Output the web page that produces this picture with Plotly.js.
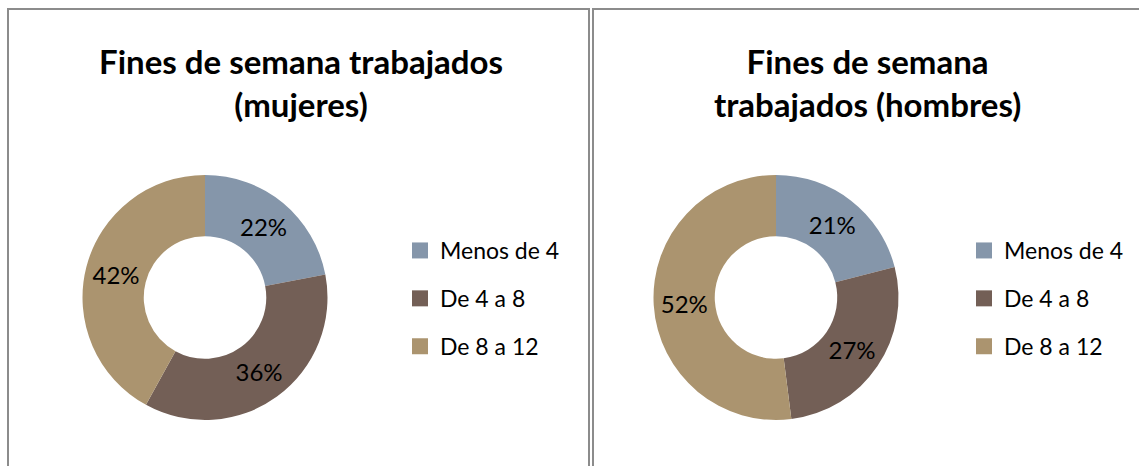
<!DOCTYPE html>
<html>
<head>
<meta charset="utf-8">
<script src="https://cdn.plot.ly/plotly-3.0.1.min.js"></script>
<style>
html,body{margin:0;padding:0;background:#fff;}
#chart{width:1139px;height:466px;}
</style>
</head>
<body>
<div id="chart"></div>
<script>
const categories = ["Menos de 4", "De 4 a 8", "De 8 a 12"];
const mujeresValues = [22, 36, 42];
const hombresValues = [21, 27, 52];
const sliceColors = ["#8596AA", "#735F56", "#AB946F"];
const titleMujeres = "Fines de semana trabajados<br>(mujeres)";
const titleHombres = "Fines de semana<br>trabajados (hombres)";

const W = 1139, H = 466;
const px = v => v / W;
const py = v => 1 - v / H;
const FONT = "Lato, 'Open Sans', sans-serif";

function pieTrace(values, x0, x1) {
  return {
    type: "pie",
    labels: categories,
    values: values,
    hole: 0.5,
    sort: false,
    direction: "clockwise",
    rotation: 0,
    marker: {colors: sliceColors, line: {width: 0}},
    textinfo: "percent",
    textposition: "inside",
    insidetextorientation: "horizontal",
    textfont: {family: FONT, size: 24, color: "#000"},
    showlegend: false,
    hoverinfo: "none",
    domain: {x: [px(x0), px(x1)], y: [py(420), py(175)]}
  };
}

const traces = [
  pieTrace(mujeresValues, 82, 328),
  pieTrace(hombresValues, 653, 899)
];

// legend entries (one per category, per panel)
["legend", "legend2"].forEach(function (lg) {
  categories.forEach(function (c, i) {
    traces.push({
      type: "scatter",
      x: [null], y: [null],
      mode: "markers",
      name: c,
      legend: lg,
      legendgroup: lg + i,
      marker: {symbol: "square", size: 16, color: sliceColors[i], line: {width: 0}},
      hoverinfo: "none",
      showlegend: true
    });
  });
});

const legendBase = {
  xanchor: "left", yanchor: "top",
  font: {family: FONT, size: 23, color: "#000"},
  tracegroupgap: 15,
  traceorder: "grouped",
  bgcolor: "rgba(0,0,0,0)",
  borderwidth: 0
};

const lineStyle = {color: "#8c8c8c", width: 2};

const layout = {
  width: W, height: H,
  margin: {l: 0, r: 0, t: 0, b: 0},
  paper_bgcolor: "#fff",
  plot_bgcolor: "#fff",
  xaxis: {visible: false},
  yaxis: {visible: false},
  legend: Object.assign({x: px(400), y: py(229)}, legendBase),
  legend2: Object.assign({x: px(964), y: py(229)}, legendBase),
  annotations: [
    {text: "<b>" + titleMujeres + "</b>", xref: "paper", yref: "paper",
     x: px(301), y: py(83), xanchor: "center", yanchor: "middle",
     showarrow: false, align: "center",
     font: {family: FONT, size: 33, color: "#000"}},
    {text: "<b>" + titleHombres + "</b>", xref: "paper", yref: "paper",
     x: px(867), y: py(83), xanchor: "center", yanchor: "middle",
     showarrow: false, align: "center",
     font: {family: FONT, size: 33, color: "#000"}}
  ],
  shapes: [
    {type: "rect", xref: "paper", yref: "paper", x0: px(8), x1: px(589), y0: -0.2, y1: py(9), line: lineStyle, fillcolor: "rgba(0,0,0,0)"},
    {type: "rect", xref: "paper", yref: "paper", x0: px(593), x1: 1.2, y0: -0.2, y1: py(9), line: lineStyle, fillcolor: "rgba(0,0,0,0)"}
  ]
};

Plotly.newPlot("chart", traces, layout, {staticPlot: true, displayModeBar: false});
</script>
</body>
</html>
